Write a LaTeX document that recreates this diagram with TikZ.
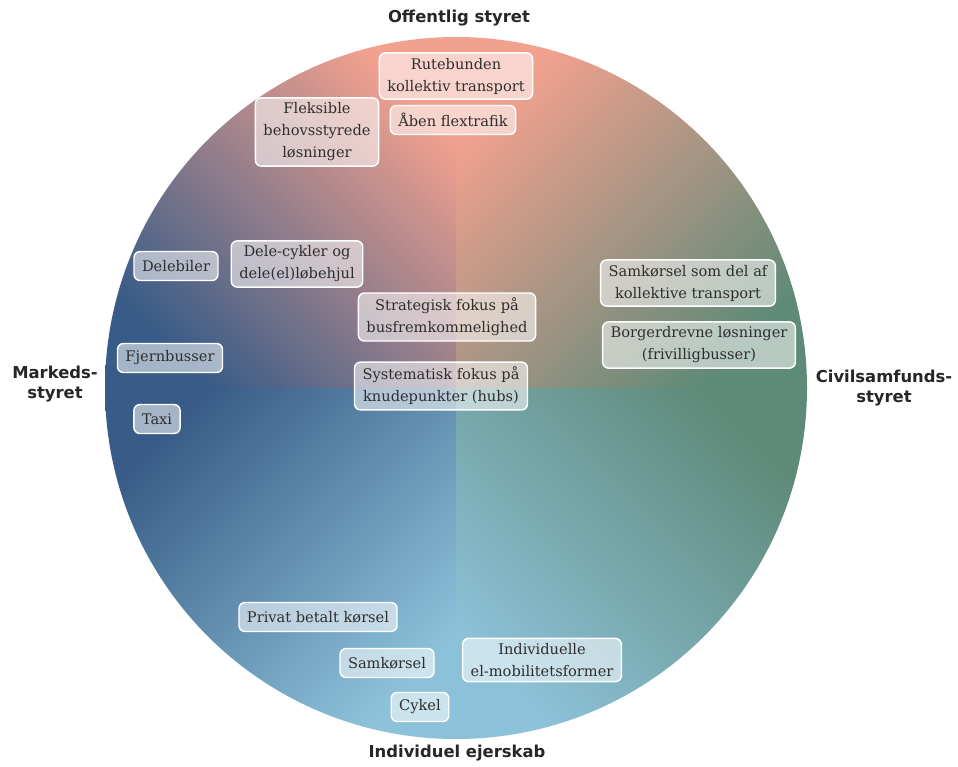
\documentclass[tikz,border=0pt]{standalone}
\usepackage{fontspec}
\setmainfont{DejaVu Serif}
\newfontfamily\axisfont{DejaVu Sans}
\usetikzlibrary{positioning}
\definecolor{offsalmon}{rgb}{0.95,0.63,0.56}
\definecolor{markblue}{rgb}{0.22,0.36,0.53}
\definecolor{civgreen}{rgb}{0.37,0.54,0.47}
\definecolor{indblue}{rgb}{0.55,0.76,0.85}
\definecolor{tagtext}{rgb}{0.18,0.18,0.18}
\tikzset{
  tag/.style  ={rectangle, rounded corners=6pt, draw=white, line width=1.4pt,
                fill=white, fill opacity=0.55, text opacity=1, text=tagtext,
                align=center, font=\fontsize{14.6}{22}\selectfont,
                inner xsep=8pt, inner ysep=5pt, minimum height=29pt},
  axislab/.style={align=center, text=black!85,
                font=\axisfont\bfseries\fontsize{16.4}{20}\selectfont},
}

\begin{document}
\begin{tikzpicture}[x=1pt, y=-1pt]
  \useasboundingbox (0,0) rectangle (958,766);
  \coordinate (c) at (456,388);
  % four quadrants, each with its own gradient
  \begin{scope}
    \clip (c) circle[radius=351pt];
    \shade[top color=offsalmon, bottom color=markblue, shading angle=-45]
      (105,37) rectangle (456,388);
    \shade[top color=offsalmon, bottom color=civgreen, shading angle=45]
      (456,37) rectangle (807,388);
    \shade[top color=markblue, bottom color=indblue, shading angle=45]
      (105,388) rectangle (456,739);
    \shade[top color=civgreen, bottom color=indblue, shading angle=-45]
      (456,388) rectangle (807,739);
  \end{scope}

  % axis labels
  \node[axislab] (off) at (459,18)  {Offentlig styret};
  \node[axislab] (mar) at (55,384)  {Markeds-\\styret};
  \node[axislab] (civ) at (884,388) {Civilsamfunds-\\styret};
  \node[axislab] (ind) at (457,753) {Individuel ejerskab};

  % solutions
  \node[tag] (rute)  at (456,76)  {Rutebunden\\kollektiv transport};
  \node[tag] (flex)  at (453,120) {Åben flextrafik};
  \node[tag] (fleks) at (317,132) {Fleksible\\behovsstyrede\\løsninger};
  \node[tag] (delbil) at (176,266) {Delebiler};
  \node[tag] (delcyk) at (297,264) {Dele-cykler og\\dele(el)løbehjul};
  \node[tag] (strat) at (447,317) {Strategisk fokus på\\busfremkommelighed};
  \node[tag] (hubs)  at (441,386) {Systematisk fokus på\\knudepunkter (hubs)};
  \node[tag] (samkol) at (688,283) {Samkørsel som del af\\kollektive transport};
  \node[tag] (borg)  at (699,345) {Borgerdrevne løsninger\\(frivilligbusser)};
  \node[tag] (fjern) at (170,358) {Fjernbusser};
  \node[tag] (taxi)  at (157,419) {Taxi};
  \node[tag] (privat) at (318,617) {Privat betalt kørsel};
  \node[tag] (samk)  at (387,663) {Samkørsel};
  \node[tag] (elmob) at (542,660) {Individuelle\\el-mobilitetsformer};
  \node[tag] (cykel) at (420,707) {Cykel};
\end{tikzpicture}
\end{document}
